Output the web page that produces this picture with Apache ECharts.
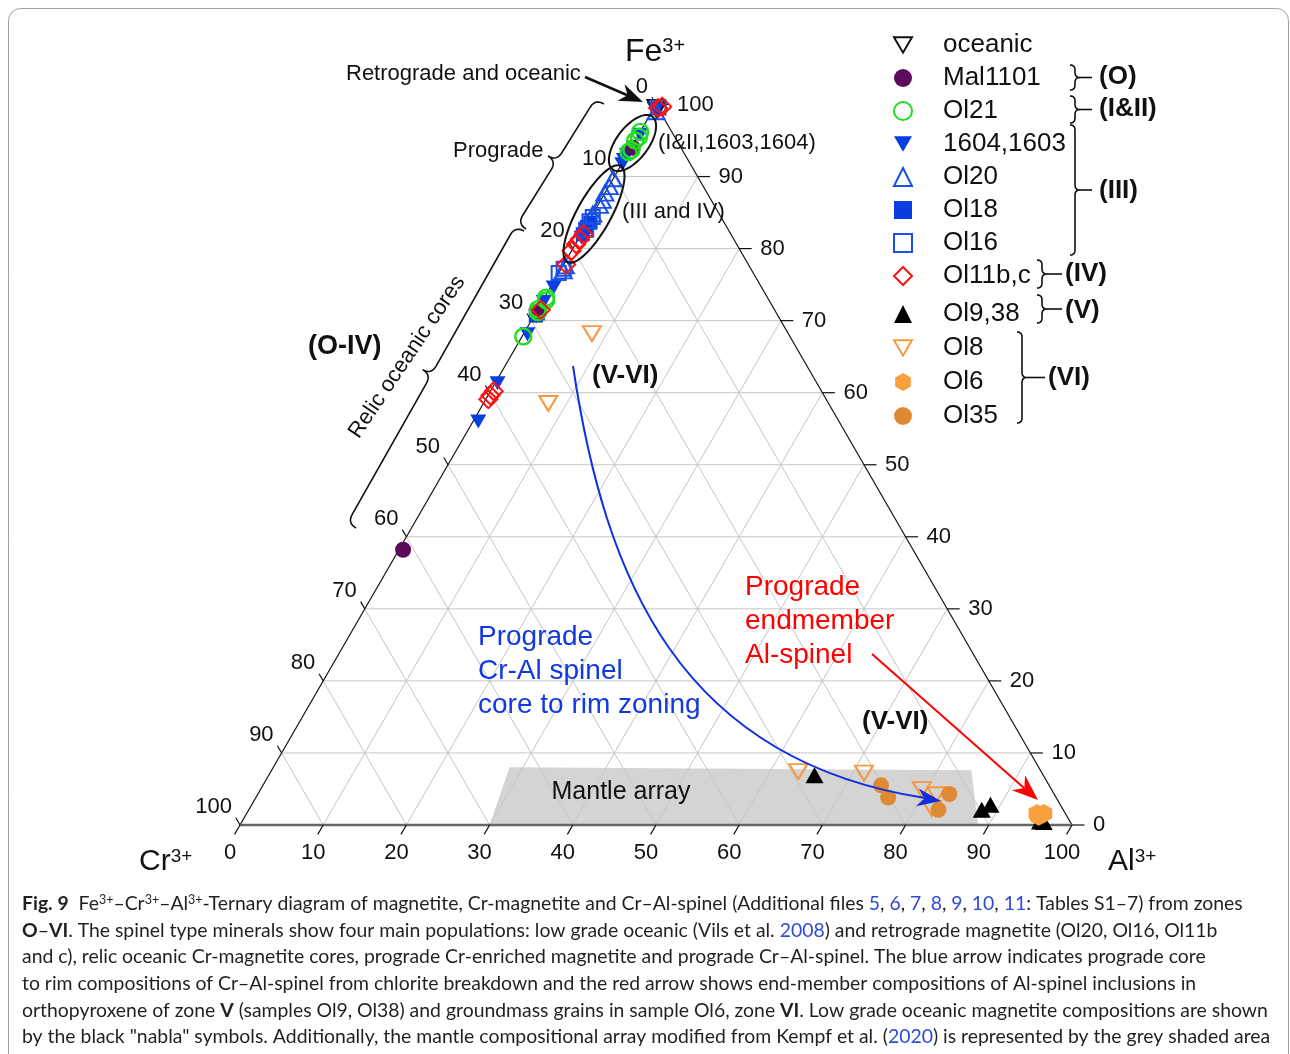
<!DOCTYPE html>
<html>
<head>
<meta charset="utf-8">
<script src="https://cdn.jsdelivr.net/npm/echarts@6/dist/echarts.min.js"></script>
<style>
html, body { margin: 0; padding: 0; background: #fff; }
#main { width: 1290px; height: 1054px; }
</style>
</head>
<body>
<div id="main"></div>
<script>
// points are [Al, Fe] in %, Cr = 100 - Al - Fe
var seriesNames = ['oceanic', 'Mal1101', 'Ol21', '1604,1603', 'Ol20', 'Ol18', 'Ol16', 'Ol11b,c', 'Ol9,38', 'Ol8', 'Ol6', 'Ol35'];
var oceanic = [[0.2, 99.6], [0.5, 99.2]];
var mal1101 = [[0.2, 94.0], [0.3, 71.3], [0.5, 38.2]];
var ol21 = [[0.0, 96.2], [0.2, 95.5], [0.0, 95.0], [0.0, 93.4], [0.2, 93.7], [0.2, 73.2], [0.4, 72.8], [0.0, 71.6], [0.2, 71.2], [0.15, 67.8]];
var s1604 = [[0.3, 99.3], [0.2, 95.8], [0.0, 93.0], [0.0, 92.3], [0.1, 91.7], [0.3, 81.5], [0.4, 74.6], [0.2, 72.6], [0.3, 70.6], [0.5, 68.1], [0.3, 61.3], [0.64, 56.0]];
var ol20 = [[0.5, 99.0], [0.0, 89.7], [0.1, 88.6], [0.0, 87.7], [0.2, 86.7], [0.2, 86.0], [0.0, 84.8], [0.3, 77.6], [0.4, 76.9]];
var ol18 = [[0.3, 83.6], [0.2, 83.0], [0.2, 82.0], [0.3, 71.0], [0.2, 70.7]];
var ol16 = [[0.5, 99.6], [0.2, 84.4], [0.1, 83.8], [0.3, 82.6], [0.3, 77.2], [0.0, 76.6]];
var ol11 = [[0.5, 99.5], [0.9, 99.7], [0.3, 82.0], [0.2, 81.3], [0.1, 80.6], [0.0, 79.7], [0.3, 77.8], [0.4, 71.5], [0.4, 60.2], [0.3, 59.6], [0.3, 59.1]];
var ol938 = [[65.6, 6.9], [88.1, 2.1], [88.8, 2.8], [95.9, 0.5], [96.4, 0.4]];
var ol8 = [[8.2, 68.2], [7.8, 58.5], [63.4, 7.4], [71.4, 7.2], [79.5, 4.9], [81.6, 4.2], [82.0, 2.3]];
var ol6 = [[95.0, 1.6], [95.8, 1.6], [95.4, 1.2]];
var ol35 = [[74.3, 5.5], [76.0, 3.8], [83.1, 4.3], [82.9, 2.1]];
var mantleArray = [[30.0, 0], [28.4, 8.0], [84.1, 7.6], [88.7, 0]];
var tickValues = [0, 10, 20, 30, 40, 50, 60, 70, 80, 90, 100];

var FONT = '"Liberation Sans", Arial, sans-serif';
var CAP_FONT = 'Lato, sans-serif';
var DOWN_TRI = 'path://M0,0L20,0L10,17Z';
var HEX = 'path://M10,0L20,5.8L20,17.3L10,23L0,17.3L0,5.8Z';

function tern(al, fe) { return [al + fe / 2, fe]; }
function toXY(list) { return list.map(function (p) { return tern(p[0], p[1]); }); }

// grid lines, edges and ticks as [al1, fe1, al2, fe2]
var gridSegs = [], tickSegs = [];
tickValues.slice(1, -1).forEach(function (k) {
    gridSegs.push([0, k, 100 - k, k]);
    gridSegs.push([k, 0, k, 100 - k]);
    gridSegs.push([100 - k, 0, 0, 100 - k]);
});
tickValues.forEach(function (k) {
    tickSegs.push([k, 0, k, -1.3]);
    tickSegs.push([100 - k, k, 101.5 - k, k]);
    tickSegs.push([0, 100 - k, -1, 101 - k]);
});
var sideEdges = [[0, 0, 0, 100], [100, 0, 0, 100]];
var baseEdge = [[0, 0, 100, 0]];

function segSeries(segs, color, width, z) {
    return {
        type: 'custom', coordinateSystem: 'cartesian2d', silent: true, z: z,
        data: segs,
        renderItem: function (params, api) {
            var a = api.coord(tern(api.value(0), api.value(1)));
            var b = api.coord(tern(api.value(2), api.value(3)));
            return {
                type: 'line',
                shape: {x1: a[0], y1: a[1], x2: b[0], y2: b[1]},
                style: {stroke: color, lineWidth: width}
            };
        }
    };
}

function labelSeries(points, dx, dy, align) {
    return {
        type: 'custom', coordinateSystem: 'cartesian2d', silent: true, z: 4,
        data: points,
        renderItem: function (params, api) {
            var c = api.coord(tern(api.value(0), api.value(1)));
            return {
                type: 'text', x: c[0] + dx, y: c[1] + dy,
                style: {
                    text: String(tickValues[params.dataIndex]), fill: '#111',
                    font: '22px ' + FONT, align: align, verticalAlign: 'middle'
                }
            };
        }
    };
}

function scatter(name, data, symbol, size, fill, stroke, bw) {
    return {
        type: 'scatter', name: name, data: toXY(data), symbol: symbol, symbolSize: size, z: 5,
        itemStyle: {color: fill, borderColor: stroke, borderWidth: bw, opacity: 1},
        emphasis: {disabled: true}
    };
}

// curly brace as a sampled polyline, bulging along normal (nx, ny)
function brace(ax, ay, bx, by, nx, ny, r, tail) {
    var L = Math.sqrt((bx - ax) * (bx - ax) + (by - ay) * (by - ay));
    var ux = (bx - ax) / L, uy = (by - ay) / L, h = L / 2;
    function P(s, t) { return [ax + ux * s + nx * t, ay + uy * s + ny * t]; }
    var pts = [];
    function quad(p0, p1, p2) {
        for (var i = 0; i <= 8; i++) {
            var t = i / 8, a = (1 - t) * (1 - t), b = 2 * t * (1 - t), c = t * t;
            pts.push([a * p0[0] + b * p1[0] + c * p2[0], a * p0[1] + b * p1[1] + c * p2[1]]);
        }
    }
    quad(P(0, 0), P(0, r), P(r, r));
    quad(P(h - r, r), P(h, r), P(h, 2 * r));
    quad(P(h, 2 * r), P(h, r), P(h + r, r));
    quad(P(L - r, r), P(L, r), P(L, 0));
    var els = [{type: 'polyline', z: 100, silent: true, shape: {points: pts}, style: {fill: 'none', stroke: '#111', lineWidth: 1.6}}];
    if (tail) {
        var c0 = P(h, 2 * r), c1 = P(h, 2 * r + tail);
        els.push({type: 'line', z: 100, silent: true, shape: {x1: c0[0], y1: c0[1], x2: c1[0], y2: c1[1]}, style: {stroke: '#111', lineWidth: 1.6}});
    }
    return els;
}

function ellipse(cx, cy, rx, ry, deg) {
    var a = deg * Math.PI / 180, pts = [];
    for (var i = 0; i < 72; i++) {
        var t = i / 72 * 2 * Math.PI;
        var x = rx * Math.cos(t), y = ry * Math.sin(t);
        pts.push([cx + x * Math.cos(a) + y * Math.sin(a), cy - x * Math.sin(a) + y * Math.cos(a)]);
    }
    return {type: 'polygon', z: 100, silent: true, shape: {points: pts}, style: {fill: 'none', stroke: '#111', lineWidth: 2}};
}

function arrowHead(tx, ty, fx, fy, len, half, color) {
    var L = Math.sqrt((tx - fx) * (tx - fx) + (ty - fy) * (ty - fy));
    var dx = (tx - fx) / L, dy = (ty - fy) / L;
    var bx = tx - dx * len, by = ty - dy * len;
    return {
        type: 'polygon', z: 100, silent: true,
        shape: {points: [[tx, ty], [bx - dy * half, by + dx * half], [bx + dx * len * 0.3, by + dy * len * 0.3], [bx + dy * half, by - dx * half]]},
        style: {fill: color}
    };
}

function txt(x, y, text, size, opts) {
    opts = opts || {};
    return {
        type: 'text', x: x, y: y, z: 100, silent: true, rotation: opts.rotation || 0,
        style: {
            text: text, fill: opts.color || '#111', align: opts.align || 'left', verticalAlign: 'middle',
            font: (opts.bold ? 'bold ' : '') + size + 'px ' + FONT, lineHeight: opts.lineHeight
        }
    };
}

function supLabel(x, y, main, sup, size) {
    return {
        type: 'text', x: x, y: y, z: 100, silent: true,
        style: {
            text: '{m|' + main + '}{s|' + sup + '}', verticalAlign: 'middle',
            rich: {
                m: {fontSize: size, fontFamily: FONT, fill: '#111', lineHeight: size},
                s: {fontSize: Math.round(size * 0.62), fontFamily: FONT, fill: '#111', verticalAlign: 'top', lineHeight: size * 0.75}
            }
        }
    };
}

var captionLines = [
    [['b', 'Fig. 9'], ['n', '  Fe'], ['s', '3+'], ['n', '–Cr'], ['s', '3+'], ['n', '–Al'], ['s', '3+'], ['n', '-Ternary diagram of magnetite, Cr-magnetite and Cr–Al-spinel (Additional files '], ['l', '5'], ['n', ', '], ['l', '6'], ['n', ', '], ['l', '7'], ['n', ', '], ['l', '8'], ['n', ', '], ['l', '9'], ['n', ', '], ['l', '10'], ['n', ', '], ['l', '11'], ['n', ': Tables S1–7) from zones']],
    [['b', 'O'], ['n', '–'], ['b', 'VI'], ['n', '. The spinel type minerals show four main populations: low grade oceanic (Vils et al. '], ['l', '2008'], ['n', ') and retrograde magnetite (Ol20, Ol16, Ol11b']],
    [['n', 'and c), relic oceanic Cr-magnetite cores, prograde Cr-enriched magnetite and prograde Cr–Al-spinel. The blue arrow indicates prograde core']],
    [['n', 'to rim compositions of Cr–Al-spinel from chlorite breakdown and the red arrow shows end-member compositions of Al-spinel inclusions in']],
    [['n', 'orthopyroxene of zone '], ['b', 'V'], ['n', ' (samples Ol9, Ol38) and groundmass grains in sample Ol6, zone '], ['b', 'VI'], ['n', '. Low grade oceanic magnetite compositions are shown']],
    [['n', 'by the black "nabla" symbols. Additionally, the mantle compositional array modified from Kempf et al. ('], ['l', '2020'], ['n', ') is represented by the grey shaded area']]
];
var capRich = {
    n: {fontSize: 19.4, fontFamily: CAP_FONT, fill: '#231f20', lineHeight: 22},
    b: {fontSize: 19.4, fontFamily: CAP_FONT, fontWeight: 'bold', fill: '#231f20', lineHeight: 22},
    l: {fontSize: 19.4, fontFamily: CAP_FONT, fill: '#2b4bd8', lineHeight: 22},
    s: {fontSize: 12.5, fontFamily: CAP_FONT, fill: '#231f20', verticalAlign: 'top', lineHeight: 16}
};

var graphics = [
    {type: 'rect', z: 100, silent: true, shape: {x: 8.5, y: 8.5, width: 1280, height: 1200, r: 12}, style: {fill: 'none', stroke: '#a0a0a0', lineWidth: 1}},
    supLabel(625, 52, 'Fe', '3+', 32),
    supLabel(139, 862, 'Cr', '3+', 30),
    supLabel(1108, 862, 'Al', '3+', 30),
    txt(346, 74, 'Retrograde and oceanic', 22),
    txt(453, 151, 'Prograde', 22),
    txt(658, 143, '(I&II,1603,1604)', 22),
    txt(622, 212, '(III and IV)', 22),
    txt(407, 357, 'Relic oceanic cores', 22, {align: 'center', rotation: 56 * Math.PI / 180}),
    txt(308, 347, '(O-IV)', 27, {bold: true}),
    txt(592, 376, '(V-VI)', 26, {bold: true}),
    txt(862, 722, '(V-VI)', 26, {bold: true}),
    txt(745, 621, 'Prograde\nendmember\nAl-spinel', 28, {color: '#ff0000', lineHeight: 34}),
    txt(478, 671, 'Prograde\nCr-Al spinel\ncore to rim zoning', 28, {color: '#1238e0', lineHeight: 34}),
    txt(621, 792, 'Mantle array', 25, {align: 'center'}),
    txt(1099, 77, '(O)', 26, {bold: true}),
    txt(1099, 109, '(I&II)', 26, {bold: true}),
    txt(1099, 191, '(III)', 26, {bold: true}),
    txt(1065, 274, '(IV)', 26, {bold: true}),
    txt(1065, 311, '(V)', 26, {bold: true}),
    txt(1048, 378, '(VI)', 26, {bold: true}),
    ellipse(632.5, 143, 33, 16, 53),
    ellipse(594, 214, 55, 17, 61),
    {type: 'line', z: 100, silent: true, shape: {x1: 585, y1: 77, x2: 628, y2: 95.5}, style: {stroke: '#111', lineWidth: 2.5}},
    arrowHead(643, 102, 585, 77, 24, 9, '#111'),
    {type: 'bezierCurve', z: 100, silent: true, shape: {x1: 573, y1: 366, cpx1: 605, cpy1: 580, cpx2: 680, cpy2: 760, x2: 925, y2: 798}, style: {fill: 'none', stroke: '#1030e0', lineWidth: 2}},
    arrowHead(941, 801, 680, 760, 24, 9, '#1030e0'),
    {type: 'line', z: 100, silent: true, shape: {x1: 872, y1: 654, x2: 1024, y2: 788}, style: {stroke: '#ff0000', lineWidth: 2}},
    arrowHead(1038, 800, 872, 654, 26, 10, '#ff0000')
];
graphics = graphics.concat(
    brace(604, 104, 526, 229, -0.849, -0.53, 10, 0),
    brace(524, 231, 356, 528, -0.870, -0.492, 10, 0),
    brace(1070, 65, 1070, 90, 1, 0, 5, 12),
    brace(1070, 96, 1070, 123, 1, 0, 5, 12),
    brace(1070, 125, 1070, 255, 1, 0, 5, 12),
    brace(1037, 260, 1037, 288, 1, 0, 5, 15),
    brace(1037, 295, 1037, 323, 1, 0, 5, 15),
    brace(1017, 332, 1017, 423, 1, 0, 5, 18)
);
captionLines.forEach(function (line, i) {
    graphics.push({
        type: 'text', x: 22, y: 904 + i * 26.6, z: 100, silent: true,
        style: {
            text: line.map(function (t) { return '{' + t[0] + '|' + t[1] + '}'; }).join(''),
            verticalAlign: 'middle', rich: capRich
        }
    });
});

function legendOf(names, top, gap) {
    return {
        data: names, top: top, itemGap: gap,
        orient: 'vertical', left: 888, itemWidth: 18, itemHeight: 18, selectedMode: false,
        textStyle: {fontSize: 26, fontFamily: FONT, color: '#111', lineHeight: 26, padding: [0, 0, 0, 26]}
    };
}

var chart = echarts.init(document.getElementById('main'), null, {renderer: 'canvas'});
var option = {
    backgroundColor: '#fff',
    animation: false,
    grid: {left: 240, top: 104.5, width: 832, height: 720.5},
    xAxis: {type: 'value', min: 0, max: 100, show: false},
    yAxis: {type: 'value', min: 0, max: 100, show: false},
    legend: [legendOf(seriesNames.slice(0, 8), 27, 7), legendOf(seriesNames.slice(8), 296, 8)],
    graphic: graphics,
    series: [
        {
            type: 'custom', coordinateSystem: 'cartesian2d', silent: true, z: 1,
            data: [[50, 4]],
            renderItem: function (params, api) {
                var pts = mantleArray.map(function (p) { return api.coord(tern(p[0], p[1])); });
                return {type: 'polygon', shape: {points: pts}, style: {fill: '#d4d4d4'}};
            }
        },
        segSeries(gridSegs, '#c6c6c6', 1, 2),
        segSeries(sideEdges, '#111', 1.2, 3),
        segSeries(baseEdge, '#666', 2.5, 3),
        segSeries(tickSegs, '#111', 1.2, 3),
        labelSeries(tickValues.map(function (k) { return [k, 0]; }), -10, 28, 'center'),
        labelSeries(tickValues.map(function (k) { return [100 - k, k]; }), 21, 0, 'left'),
        labelSeries(tickValues.map(function (k) { return [0, 100 - k]; }), -8, -18, 'right'),
        scatter('oceanic', oceanic, DOWN_TRI, [17, 15], 'rgba(255,255,255,0)', '#111', 2),
        scatter('1604,1603', s1604, DOWN_TRI, [16, 14], '#0a3ee0', '#0a3ee0', 0),
        scatter('Ol20', ol20, 'triangle', [17, 15], 'rgba(255,255,255,0)', '#1a50e8', 2),
        scatter('Ol18', ol18, 'rect', 14, '#0a3ee0', '#0a3ee0', 0),
        scatter('Ol16', ol16, 'rect', 14, 'rgba(255,255,255,0)', '#1a50e8', 2),
        scatter('Mal1101', mal1101, 'circle', 16, '#5c0a5c', '#5c0a5c', 0),
        scatter('Ol21', ol21, 'circle', 16, 'rgba(255,255,255,0)', '#22dd22', 2.4),
        scatter('Ol11b,c', ol11, 'diamond', 18, 'rgba(255,255,255,0)', '#ff1010', 2),
        scatter('Ol9,38', ol938, 'triangle', [18, 16], '#000', '#000', 0),
        scatter('Ol8', ol8, DOWN_TRI, [18, 15], 'rgba(255,255,255,0)', '#f39a40', 2),
        scatter('Ol6', ol6, HEX, [17, 19], '#f9a03e', '#f9a03e', 0),
        scatter('Ol35', ol35, 'circle', 16, '#de8a33', '#de8a33', 0)
    ]
};
chart.setOption(option);
</script>
</body>
</html>
